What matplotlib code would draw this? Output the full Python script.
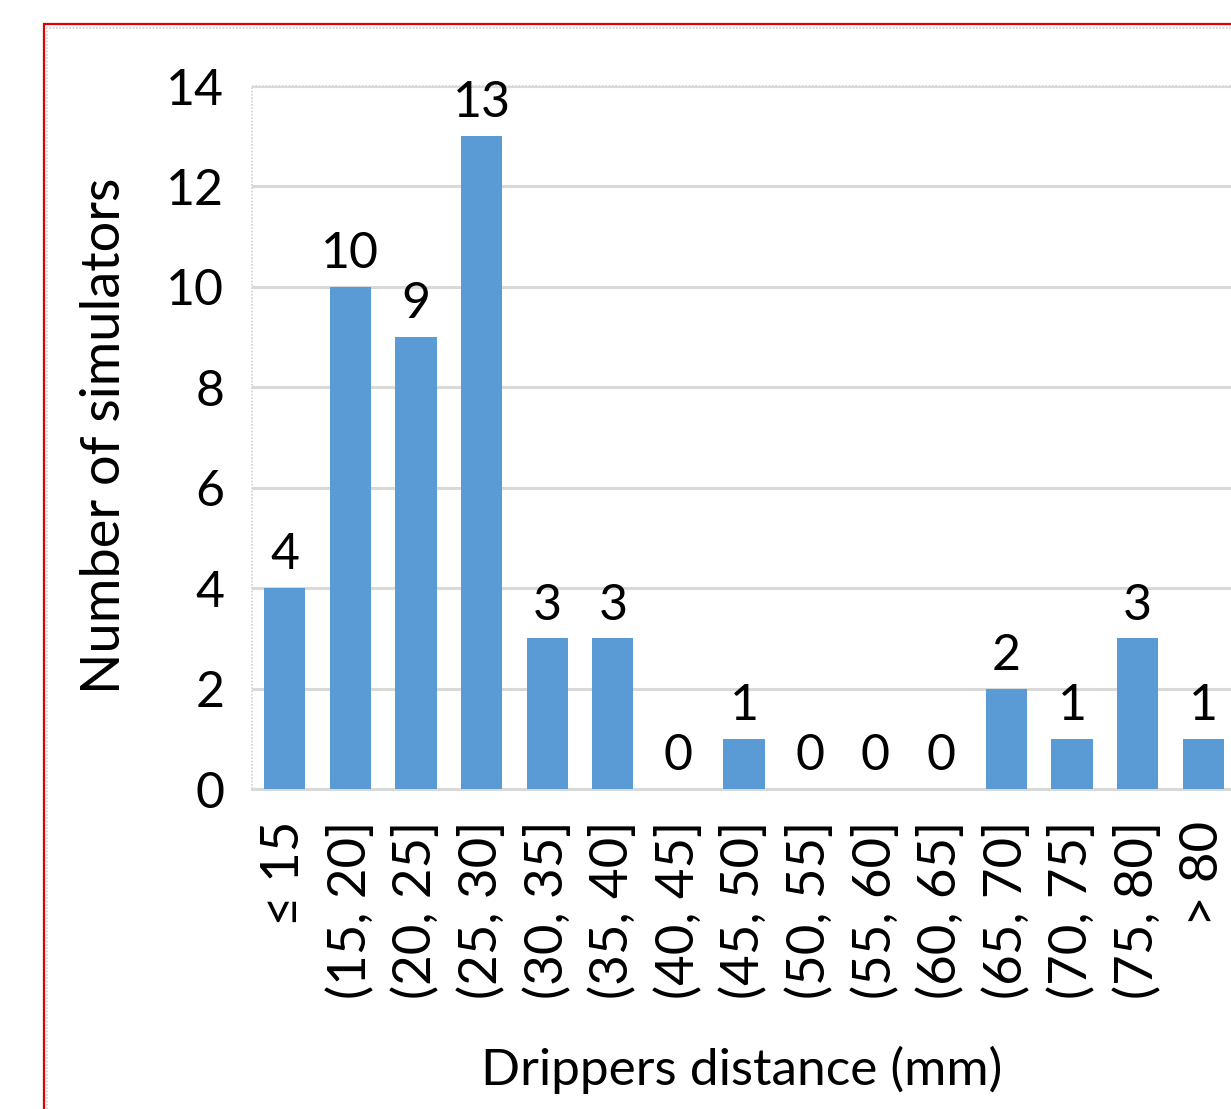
import matplotlib
matplotlib.use("Agg")
import matplotlib.pyplot as plt
from matplotlib.patches import Rectangle
from matplotlib.lines import Line2D

plt.rcParams['font.family'] = ['Lato', 'DejaVu Sans']

# Histogram of dripper spacing across rainfall simulators
categories = ["\u2264 15", "(15, 20]", "(20, 25]", "(25, 30]", "(30, 35]", "(35, 40]",
              "(40, 45]", "(45, 50]", "(50, 55]", "(55, 60]", "(60, 65]", "(65, 70]",
              "(70, 75]", "(75, 80]", "> 80"]
counts = [4, 10, 9, 13, 3, 3, 0, 1, 0, 0, 0, 2, 1, 3, 1]
y_ticks = [0, 2, 4, 6, 8, 10, 12, 14]

W, H = 1231, 1109
fig = plt.figure(figsize=(W / 100, H / 100), dpi=100)

# Plot area runs slightly past the right edge of the canvas
left, right, top, bottom = 252, 1236, 86, 789
ax = fig.add_axes([left / W, 1 - bottom / H, (right - left) / W, (bottom - top) / H])

bar_color = "#5B9BD5"
x = list(range(len(categories)))
ax.bar(x, counts, width=0.63, color=bar_color, zorder=3)
ax.set_xlim(-0.5, len(categories) - 0.5)
ax.set_ylim(0, 14)

ax.set_yticks(y_ticks)
ax.set_xticks(x)
ax.set_xticklabels(categories, rotation=90, ha="center", va="top", fontsize=38)
ax.tick_params(axis="both", length=0, colors="black")
ax.tick_params(axis="y", pad=20, labelsize=36)
ax.tick_params(axis="x", pad=23)

ax.grid(axis="y", color="#D9D9D9", linewidth=2.2, zorder=0)
for side in ["top", "right", "left"]:
    ax.spines[side].set_visible(False)
ax.spines["bottom"].set_color("#D9D9D9")
ax.spines["bottom"].set_linewidth(2.2)

# Light dotted plot-area frame on the left and top
ax.plot([0, 0], [0, 1], transform=ax.transAxes, color="#D0D0D0", lw=1.2,
        ls=(0, (1, 1)), clip_on=False, zorder=1)
ax.plot([0, 1], [1, 1], transform=ax.transAxes, color="#D0D0D0", lw=1.2,
        ls=(0, (1, 1)), clip_on=False, zorder=1)

for xi, v in zip(x, counts):
    ax.annotate(str(v), (xi, v), xytext=(0, 7), textcoords="offset points",
                ha="center", va="bottom", fontsize=36, color="black")

# Axis titles
fig.text(105 / W, 1 - 436 / H, "Number of simulators", rotation=90,
         ha="center", va="center", fontsize=39)
fig.text(742 / W, 1 - 1070 / H, "Drippers distance (mm)",
         ha="center", va="center", fontsize=37)

# Outer chart frame: red border with a faint dotted border just inside
fig.add_artist(Rectangle((44 / W, -0.05), 1.1, 1 - 24 / H + 0.05,
                         transform=fig.transFigure, fill=False,
                         edgecolor="#E00000", linewidth=1.6))
fig.add_artist(Line2D([46 / W, 1.0], [1 - 28 / H, 1 - 28 / H], transform=fig.transFigure,
                      color="#D0D0D0", lw=1.2, ls=(0, (1, 1))))
fig.add_artist(Line2D([47 / W, 47 / W], [0, 1 - 28 / H], transform=fig.transFigure,
                      color="#D0D0D0", lw=1.2, ls=(0, (1, 1))))

fig.savefig("out.png", dpi=100)
